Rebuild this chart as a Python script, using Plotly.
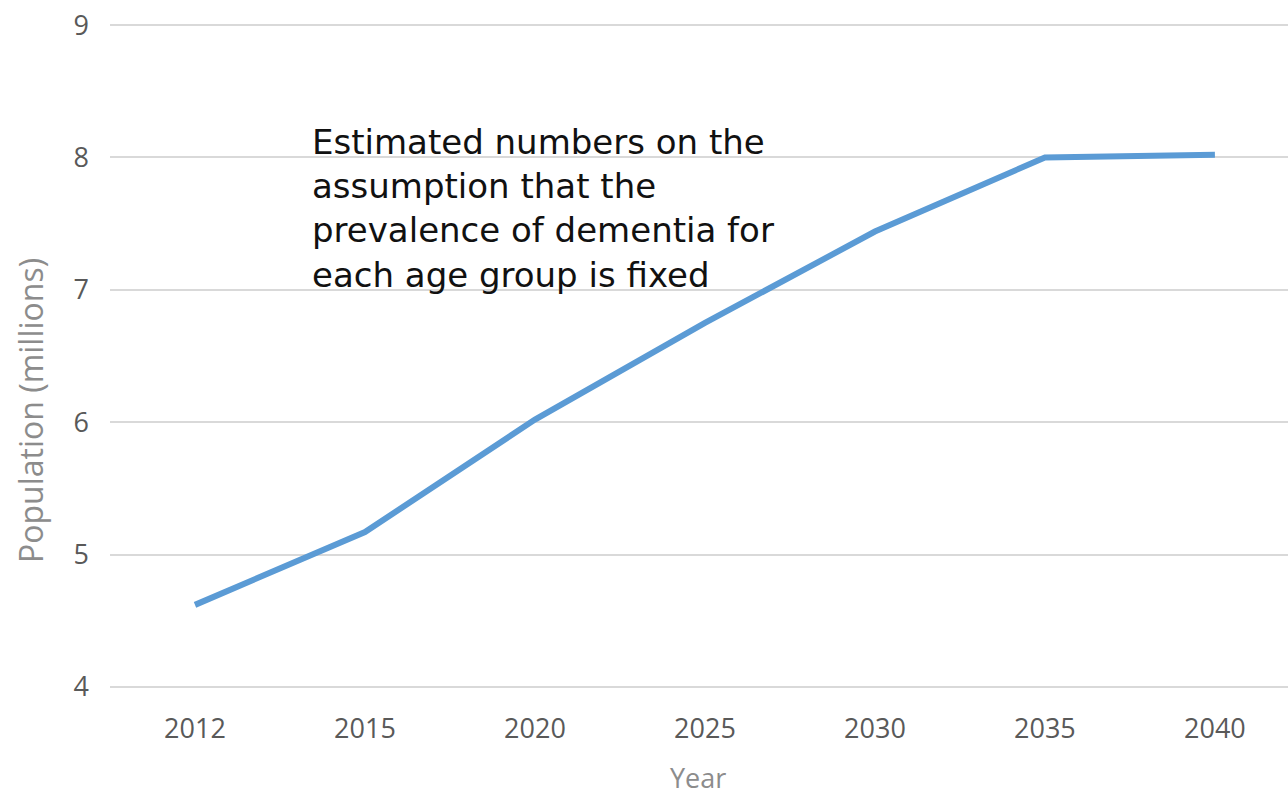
import plotly.graph_objects as go

years = ["2012", "2015", "2020", "2025", "2030", "2035", "2040"]
population = [4.62, 5.17, 6.02, 6.75, 7.44, 8.00, 8.02]
y_ticks = [4, 5, 6, 7, 8, 9]
note = "Estimated numbers on the<br>assumption that the<br>prevalence of dementia for<br>each age group is fixed"
x_title = "Year"
y_title = "Population (millions)"

fig = go.Figure()
fig.add_trace(go.Scatter(
    x=years, y=population, mode="lines",
    line=dict(color="#5B9BD5", width=6),
    showlegend=False,
))
fig.add_annotation(
    text=note, xref="paper", yref="paper", x=0.17, y=0.855,
    xanchor="left", yanchor="top", align="left", showarrow=False,
    font=dict(family="DejaVu Sans", size=34, color="#111111"),
)
# axis titles placed in pixel terms relative to paper
fig.add_annotation(
    text=x_title, xref="paper", yref="paper", x=(698 - 110) / 1178, y=-(778 - 688) / 664,
    xanchor="center", yanchor="middle", showarrow=False,
    font=dict(family="Open Sans", size=27, color="#8c8c8c"),
)
fig.add_annotation(
    text=y_title, xref="paper", yref="paper", x=-(110 - 31) / 1178, y=(688 - 411) / 664,
    xanchor="center", yanchor="middle", showarrow=False, textangle=-90,
    font=dict(family="Open Sans", size=32, color="#8c8c8c"),
)
fig.update_layout(
    width=1288, height=795,
    margin=dict(l=110, r=0, t=24, b=107),
    paper_bgcolor="white", plot_bgcolor="white",
    font=dict(family="Open Sans", color="#595959"),
    xaxis=dict(
        type="category", range=[-0.5, 6.43],
        showgrid=False, showline=False, zeroline=False,
        tickfont=dict(size=27, color="#595959"), ticks="",
        ticklabelstandoff=22,
    ),
    yaxis=dict(
        range=[3.992, 9.008], tickvals=y_ticks,
        showgrid=True, gridcolor="#d9d9d9", gridwidth=2,
        zeroline=False, showline=False, ticks="",
        tickfont=dict(size=27, color="#595959"), ticklabelstandoff=20,
    ),
)
fig.write_html("out.html")
